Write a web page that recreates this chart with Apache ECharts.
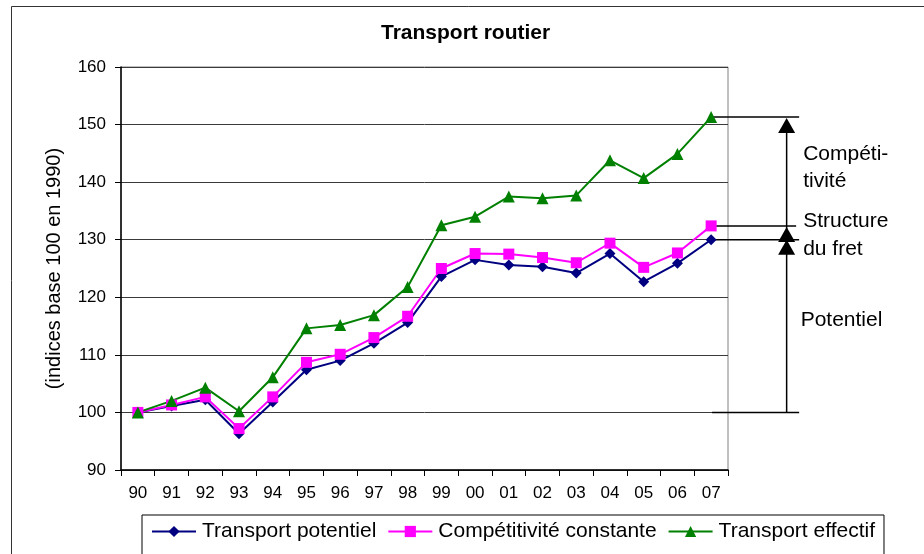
<!DOCTYPE html>
<html>
<head>
<meta charset="utf-8">
<script src="https://cdn.jsdelivr.net/npm/echarts@6/dist/echarts.min.js"></script>
<style>
html,body{margin:0;padding:0;background:#fff;}
#chart{width:924px;height:554px;}
</style>
</head>
<body>
<div id="chart"></div>
<script>
const years = ['90','91','92','93','94','95','96','97','98','99','00','01','02','03','04','05','06','07'];
const potentiel = [100, 101.1, 102.2, 96.3, 101.8, 107.4, 109.0, 112.0, 115.6, 123.6, 126.5, 125.6, 125.3, 124.2, 127.6, 122.7, 125.9, 130.0];
const competitivite = [100, 101.3, 102.7, 97.2, 102.7, 108.7, 110.1, 113.0, 116.7, 125.0, 127.6, 127.5, 126.9, 126.0, 129.4, 125.2, 127.7, 132.4];
const effectif = [100, 102.0, 104.3, 100.2, 106.1, 114.6, 115.2, 116.9, 121.8, 132.5, 134.0, 137.5, 137.2, 137.7, 143.8, 140.7, 144.9, 151.3];
const seriesNames = ['Transport potentiel', 'Compétitivité constante', 'Transport effectif'];
const yTicks = {min: 90, max: 160, interval: 10};
const baseValue = 100;
const annotLabels = {comp: ['Compéti-', 'tivité'], struct: ['Structure', 'du fret'], pot: ['Potentiel']};

const FONT = '"Liberation Sans", Arial, sans-serif';
const last = years.length - 1;

const chart = echarts.init(document.getElementById('chart'), null, {renderer: 'canvas'});

function arrowHead(x, yTip) {
  return {type: 'polygon', shape: {points: [[x, yTip], [x - 8.5, yTip + 15], [x + 8.5, yTip + 15]]}, style: {fill: '#000'}};
}
function hline(x1, x2, y) {
  return {type: 'line', shape: {x1: x1, y1: y, x2: x2, y2: y}, style: {stroke: '#000', lineWidth: 1.5}};
}
function txt(t, x, y) {
  return {type: 'text', style: {text: t, x: x, y: y, fill: '#000', font: '21px ' + FONT, align: 'left', verticalAlign: 'middle'}};
}

const option = {
  backgroundColor: '#fff',
  animation: false,
  textStyle: {fontFamily: FONT},
  title: {
    text: 'Transport routier',
    left: 381, top: 23,
    padding: 0,
    textStyle: {fontSize: 21, fontWeight: 'bold', color: '#000', fontFamily: FONT}
  },
  graphic: [{
    type: 'rect', shape: {x: 11.5, y: 6.5, width: 1200, height: 1200},
    style: {fill: 'none', stroke: '#333', lineWidth: 1}, silent: true, z: -10
  }],
  grid: {left: 121, right: 196, top: 67, bottom: 84, show: true, borderColor: '#808080', borderWidth: 1, backgroundColor: 'transparent'},
  legend: {
    data: seriesNames,
    left: 142, top: 515,
    orient: 'horizontal',
    padding: [6, 9, 40, 9],
    itemGap: 11,
    itemWidth: 44, itemHeight: 14,
    borderColor: '#000', borderWidth: 1,
    textStyle: {fontSize: 21, color: '#000', fontFamily: FONT, padding: [0, 0, 0, 1]}
  },
  xAxis: {
    type: 'category',
    data: years,
    boundaryGap: true,
    axisLine: {lineStyle: {color: '#000', width: 1.5}},
    axisTick: {show: true, interval: 0, length: 6, lineStyle: {color: '#000', width: 1}},
    axisLabel: {fontSize: 17, color: '#000', margin: 15, interval: 0, fontFamily: FONT},
    splitLine: {show: false}
  },
  yAxis: {
    type: 'value',
    min: yTicks.min, max: yTicks.max, interval: yTicks.interval,
    name: '(indices base 100 en 1990)',
    nameLocation: 'middle',
    nameRotate: 90,
    nameGap: 57,
    nameTextStyle: {fontSize: 20, color: '#000', fontFamily: FONT},
    axisLine: {show: true, lineStyle: {color: '#000', width: 1.5}},
    axisTick: {show: true, length: 6, lineStyle: {color: '#000', width: 1}},
    axisLabel: {fontSize: 17, color: '#000', margin: 15, fontFamily: FONT},
    splitLine: {show: true, lineStyle: {color: '#3a3a3a', width: 1}}
  },
  series: [
    {
      name: seriesNames[0], type: 'line', data: potentiel,
      symbol: 'diamond', symbolSize: 11, showAllSymbol: true,
      lineStyle: {color: '#000080', width: 2},
      itemStyle: {color: '#000080'}
    },
    {
      name: seriesNames[1], type: 'line', data: competitivite,
      symbol: 'rect', symbolSize: 11, showAllSymbol: true,
      lineStyle: {color: '#FF00FF', width: 2},
      itemStyle: {color: '#FF00FF'}
    },
    {
      name: seriesNames[2], type: 'line', data: effectif,
      symbol: 'triangle', symbolSize: 12, showAllSymbol: true,
      lineStyle: {color: '#008000', width: 2},
      itemStyle: {color: '#008000'}
    },
    {
      type: 'custom',
      name: 'annotation',
      clip: false,
      silent: true,
      z: 1,
      data: [[last, effectif[last], competitivite[last], potentiel[last], baseValue]],
      renderItem: function (params, api) {
        const idx = api.value(0);
        const pE = api.coord([idx, api.value(1)]);
        const pC = api.coord([idx, api.value(2)]);
        const pP = api.coord([idx, api.value(3)]);
        const pB = api.coord([idx, api.value(4)]);
        const x0 = pE[0] + 1;
        const xr = pE[0] + 88;
        const ax = pE[0] + 75.5;
        const tx = ax + 16.5;
        const yE = pE[1], yC = pC[1], yP = pP[1], yB = pB[1];
        const midEC = (yE + yC) / 2;
        const midPB = (yP + yB) / 2;
        return {
          type: 'group',
          children: [
            hline(x0, xr, yE),
            hline(x0, xr - 3, yC),
            hline(x0, xr, yP),
            hline(x0, xr, yB),
            {type: 'line', shape: {x1: ax, y1: yB, x2: ax, y2: yE + 8}, style: {stroke: '#000', lineWidth: 1.5}},
            arrowHead(ax, yE + 1),
            arrowHead(ax, yC + 1),
            arrowHead(ax, yP),
            txt(annotLabels.comp[0], tx, midEC - 17),
            txt(annotLabels.comp[1], tx, midEC + 10),
            txt(annotLabels.struct[0], tx, yC - 5),
            txt(annotLabels.struct[1], tx, yC + 23),
            txt(annotLabels.pot[0], tx - 2.5, midPB - 5.5)
          ]
        };
      }
    }
  ]
};
chart.setOption(option);
</script>
</body>
</html>
